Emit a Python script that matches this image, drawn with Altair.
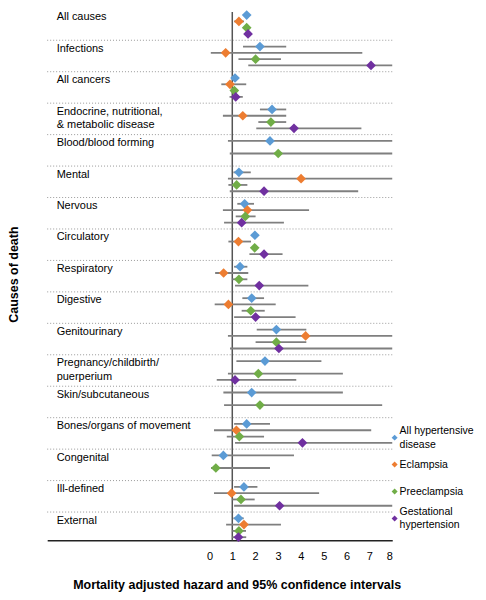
import altair as alt
import pandas as pd

causes = [
    "All causes", "Infections", "All cancers",
    "Endocrine, nutritional,\n& metabolic disease", "Blood/blood forming",
    "Mental", "Nervous", "Circulatory", "Respiratory", "Digestive",
    "Genitourinary", "Pregnancy/childbirth/\npuerperium", "Skin/subcutaneous",
    "Bones/organs of movement", "Congenital", "Ill-defined", "External",
]
series = ["All hypertensive disease", "Eclampsia", "Preeclampsia", "Gestational hypertension"]
legend_labels = ["All hypertensive\ndisease", "Eclampsia", "Preeclampsia", "Gestational\nhypertension"]
colors = ["#5B9BD5", "#ED7D31", "#70AD47", "#7030A0"]

hyp_est = [1.63, 2.21, 1.12, 2.74, 2.65, 1.29, 1.54, 1.99, 1.34, 1.85, 2.93, 2.43, 1.85, 1.63, 0.61, 1.51, 1.27]
hyp_lo = [1.50, 1.47, 1.00, 2.21, 0.81, 1.05, 1.22, 1.85, 1.08, 1.44, 2.07, 1.18, 0.61, 1.08, 0.10, 1.08, 1.05]
hyp_hi = [1.77, 3.36, 1.25, 3.36, 8.00, 1.81, 1.95, 2.10, 1.66, 2.39, 4.24, 4.90, 5.84, 2.65, 3.70, 2.10, 1.50]

ecl_est = [1.29, 0.71, 0.90, 1.46, None, 4.01, 1.66, 1.27, 0.62, 0.83, 4.21, None, None, 1.18, None, 0.97, 1.51]
ecl_lo = [1.08, 0.06, 0.52, 0.59, None, 0.81, 0.59, 0.83, 0.25, 0.23, 0.81, None, None, 0.20, None, 0.20, 0.73]
ecl_hi = [1.51, 6.69, 1.61, 3.36, None, 8.00, 4.36, 1.82, 1.70, 2.90, 8.00, None, None, 7.08, None, 4.80, 3.13]

pre_est = [1.63, 2.02, 1.09, 2.69, 3.01, 1.19, 1.57, 1.98, 1.29, 1.81, 2.93, 2.14, 2.21, 1.31, 0.28, 1.38, 1.29]
pre_lo = [1.50, 1.27, 0.95, 2.14, 0.89, 0.83, 1.15, 1.85, 1.00, 1.41, 2.02, 0.81, 0.64, 0.76, 0.07, 1.00, 1.00]
pre_hi = [1.77, 3.13, 1.25, 3.36, 8.00, 1.66, 2.02, 2.10, 1.66, 2.42, 4.24, 5.84, 7.56, 2.39, 2.65, 1.98, 1.60]

ges_est = [1.69, 7.07, 1.15, 3.70, None, 2.39, 1.41, 2.39, 2.18, 2.02, 3.04, 1.12, None, 4.07, None, 3.07, 1.27]
ges_lo = [1.55, 1.70, 0.88, 2.05, None, 0.89, 0.64, 1.75, 1.12, 1.08, 0.90, 0.32, None, 1.12, None, 1.08, 1.00]
ges_hi = [1.85, 8.00, 1.46, 6.65, None, 6.51, 3.26, 3.20, 4.33, 3.77, 8.00, 3.80, None, 8.00, None, 8.00, 1.61]

x_ticks = [0, 1, 2, 3, 4, 5, 6, 7, 8]
ref_value = [1]

all_series = [
    (hyp_est, hyp_lo, hyp_hi),
    (ecl_est, ecl_lo, ecl_hi),
    (pre_est, pre_lo, pre_hi),
    (ges_est, ges_lo, ges_hi),
]

rows = []
for si, (est, lo, hi) in enumerate(all_series):
    for gi, c in enumerate(causes):
        if est[gi] is None:
            continue
        rows.append(dict(cause=c, series=series[si], est=est[gi], lo=lo[gi], hi=hi[gi],
                         slot=5 * gi + si + 1))
df = pd.DataFrame(rows)

n = len(causes)
sep_df = pd.DataFrame({"sep": [5 * i for i in range(1, n)]})
lab_df = pd.DataFrame({"cause": causes, "ly": [5 * i + 0.4 for i in range(n)]})
ref_df = pd.DataFrame({"ref": ref_value, "y0": [0.5], "y1": [5 * n - 0.5]})

W, H = 346, 533
FONT = "Liberation Sans"
XT = "Mortality adjusted hazard and 95% confidence intervals"
YT = "Causes of death"

xscale = alt.Scale(domain=[-7.1, 8], nice=False, zero=False)
yscale = alt.Scale(domain=[0, 5 * n - 0.5], reverse=True, nice=False, zero=False)

x_axis = alt.Axis(values=x_ticks, format="d", ticks=False, tickSize=0, grid=False,
                  labelPadding=10, labelFont=FONT, labelFontSize=11, labelColor="#000",
                  domainColor="#222", domainWidth=1.5,
                  titleFont=FONT, titleFontSize=12.5, titleFontWeight="bold", titleColor="#000",
                  titleX=190, titleY=44, titleAlign="center", titleBaseline="middle")
y_axis = alt.Axis(labels=False, ticks=False, domain=False, grid=False,
                  titleFont=FONT, titleFontSize=12.5, titleFontWeight="bold", titleColor="#000",
                  titleAngle=270, titleX=-33.5, titleY=266, titleAlign="center",
                  titleBaseline="middle")


def X(field):
    return alt.X(field, scale=xscale, axis=x_axis, title=XT)


def Y(field):
    return alt.Y(field, scale=yscale, axis=y_axis, title=YT)


seps = alt.Chart(sep_df).mark_rule(color="#9a9a9a", strokeWidth=1, strokeDash=[1, 2]).encode(
    y=Y("sep:Q"), x=alt.value(0), x2=alt.value(W))

labels = alt.Chart(lab_df).mark_text(align="left", baseline="top", lineBreak="\n", font=FONT,
                                     fontSize=11, lineHeight=13.8, color="#000").encode(
    x=alt.value(9.5), y=Y("ly:Q"), text="cause:N")

ref = alt.Chart(ref_df).mark_rule(color="#555555", strokeWidth=1.5).encode(
    x=X("ref:Q"), y=Y("y0:Q"), y2="y1:Q")

ci = alt.Chart(df).mark_rule(color="#7f7f7f", strokeWidth=1.8).encode(
    x=X("lo:Q"), x2="hi:Q", y=Y("slot:Q"))

pts = alt.Chart(df).mark_point(shape="diamond", filled=True, size=95, opacity=1).encode(
    x=X("est:Q"), y=Y("slot:Q"),
    color=alt.Color("series:N", scale=alt.Scale(domain=series, range=colors), legend=None))

layers = [seps, labels, ref, ci, pts]

# manual legend
leg_x, leg_y0, leg_step, leg_fs, leg_lh = 348.4, 430.0, 27.0, 10.5, 13.5
for k, (lab, col) in enumerate(zip(legend_labels, colors)):
    my = leg_y0 + leg_step * k
    nl = lab.count("\n") + 1
    ty = my - (nl - 1) * leg_lh / 2 - 0.44 * leg_fs
    layers.append(alt.Chart(pd.DataFrame({"s": [series[k]]})).mark_point(
        shape="diamond", filled=True, size=36, color=col, opacity=1).encode(
        x=alt.value(leg_x), y=alt.value(my)))
    layers.append(alt.Chart(pd.DataFrame({"t": [lab]})).mark_text(
        align="left", baseline="top", lineBreak="\n", font=FONT, fontSize=leg_fs,
        lineHeight=leg_lh, color="#000").encode(
        x=alt.value(leg_x + 5), y=alt.value(ty), text="t:N"))

chart = alt.layer(*layers).properties(
    width=W, height=H,
    autosize=alt.AutoSizeParams(type="none"),
    padding={"left": 39.3, "top": 0, "right": 86, "bottom": 57},
    background="white",
).configure_view(stroke=None)

chart.save("out.html", embed_options={"renderer": "svg", "actions": False})
